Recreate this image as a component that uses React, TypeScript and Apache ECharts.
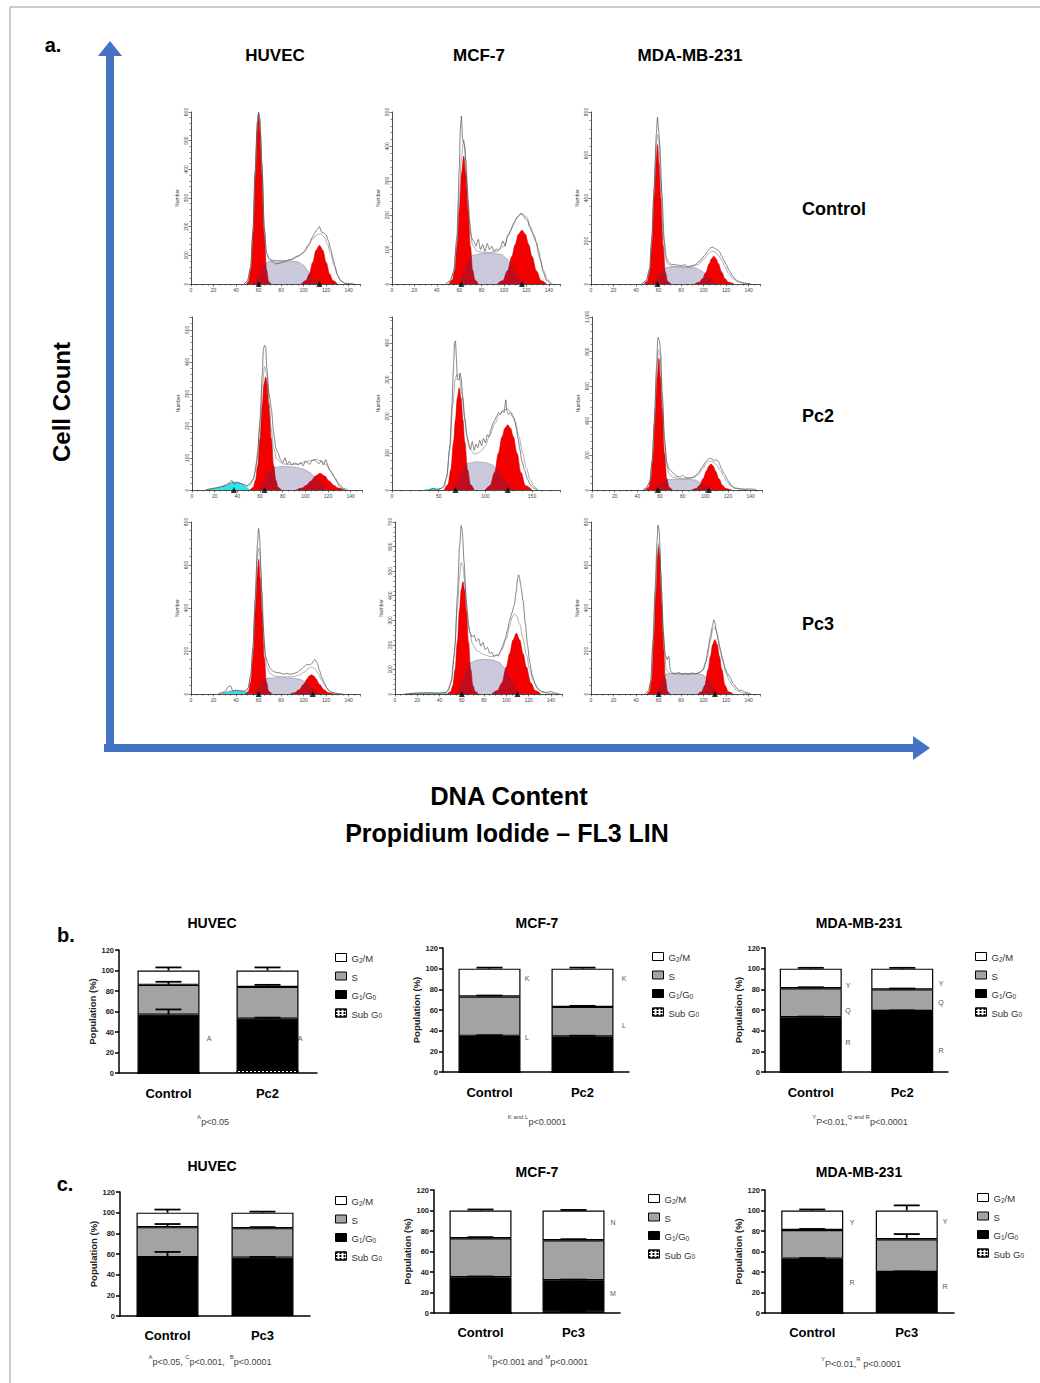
import React, { useEffect, useRef } from "react";
import * as echarts from "echarts";

const FONT = '"Liberation Sans", Arial, Helvetica, sans-serif';

// ---------------- Part a: DNA content histograms (x = PI channel, y = cell number) ----------------
// HUVEC Control
const huvecCtrlG1 = [[49,0],[51,8],[53,50],[55,175],[57,380],[58.5,530],[60,595],[61.5,530],[63,380],[65,175],[67,50],[69,8],[71,0]];
const huvecCtrlG2 = [[98,0],[102,12],[105,35],[108,75],[111,118],[114,135],[117,118],[120,75],[123,35],[126,12],[130,0]];
const huvecCtrlS = [[56,0],[60,25],[64,60],[68,78],[75,82],[85,82],[95,78],[100,65],[104,45],[108,22],[112,6],[116,0]];
const huvecCtrlRaw = [[47,0],[50,10],[53,60],[55,190],[57,400],[59,570],[60,600],[61,580],[63,420],[65,200],[67,110],[69,88],[72,80],[75,70],[78,72],[81,76],[84,78],[87,84],[90,88],[93,95],[96,100],[99,108],[102,120],[105,140],[108,165],[110,180],[112,190],[114,200],[116,180],[118,178],[120,170],[122,150],[124,120],[126,90],[128,60],[130,30],[133,10],[137,2],[145,0]];
const huvecCtrlFit = [[47,0],[50,10],[53,55],[55,180],[57,390],[59,565],[60,592],[61,575],[63,410],[65,195],[67,105],[70,85],[75,82],[80,80],[85,82],[90,86],[95,95],[100,110],[104,135],[108,158],[112,172],[115,175],[118,165],[121,140],[124,105],[127,65],[130,32],[133,12],[137,2],[142,0]];
const huvecCtrlTri = [[60,0],[114,0]];
// MCF-7 Control
const mcfCtrlG1 = [[51,0],[54,12],[56,40],[58,110],[60,215],[62,320],[64,372],[66,320],[68,215],[70,110],[72,40],[74,12],[77,0]];
const mcfCtrlG2 = [[94,0],[99,10],[103,38],[107,80],[110,115],[113,145],[116,156],[119,145],[122,115],[125,80],[129,38],[133,10],[138,0]];
const mcfCtrlS = [[60,0],[64,30],[68,65],[72,84],[80,89],[90,90],[98,86],[103,72],[107,50],[111,28],[115,10],[119,0]];
const mcfCtrlRaw = [[48,0],[52,8],[55,35],[58,140],[60,330],[61,450],[62,488],[63,420],[64,410],[65,400],[67,290],[69,190],[71,135],[73,125],[75,110],[77,130],[79,100],[81,115],[83,95],[85,118],[87,100],[89,110],[91,95],[93,102],[95,98],[97,108],[99,125],[101,110],[103,140],[106,155],[109,180],[112,195],[115,205],[117,200],[119,190],[121,185],[123,165],[125,150],[127,140],[129,120],[131,95],[133,65],[135,35],[138,10],[142,0]];
const mcfCtrlFit = [[48,0],[52,10],[55,35],[58,125],[60,250],[62,370],[64,420],[66,360],[68,240],[70,150],[72,112],[76,95],[82,92],[88,92],[94,95],[100,110],[104,140],[108,170],[112,195],[116,205],[120,195],[124,165],[128,125],[132,75],[135,40],[139,12],[143,0]];
const mcfCtrlTri = [[62,0],[116,0]];
// MDA-MB-231 Control
const mdaCtrlG1 = [[47,0],[50,12],[52,55],[54,180],[56,400],[57.5,560],[59,649],[60.5,560],[62,400],[64,180],[66,55],[68,12],[71,0]];
const mdaCtrlG2 = [[92,0],[96,8],[99,25],[102,55],[105,95],[107,118],[109,129],[111,118],[113,95],[116,55],[119,25],[122,8],[127,0]];
const mdaCtrlS = [[55,0],[59,25],[63,60],[67,77],[75,80],[85,79],[93,75],[98,62],[102,42],[106,20],[110,5],[113,0]];
const mdaCtrlRaw = [[45,0],[49,15],[52,70],[54,220],[56,450],[58,700],[59,775],[60,720],[61,650],[63,420],[65,200],[67,120],[69,100],[71,92],[74,90],[77,88],[80,85],[83,90],[86,80],[89,85],[92,88],[95,100],[98,115],[101,135],[104,155],[106,168],[108,172],[110,165],[112,160],[114,150],[116,130],[118,110],[120,90],[123,60],[126,35],[129,18],[132,10],[136,5],[142,0]];
const mdaCtrlFit = [[45,0],[49,15],[52,68],[54,210],[56,430],[58,650],[59,695],[60,680],[62,480],[64,240],[66,120],[68,92],[72,82],[80,80],[88,80],[95,90],[100,115],[104,140],[107,152],[110,150],[113,135],[116,110],[119,80],[122,50],[126,25],[130,10],[136,2],[142,0]];
const mdaCtrlTri = [[59,0]];
// HUVEC Pc2
const huvecPc2Sub = [[14,0],[20,4],[25,8],[30,15],[34,22],[37,25],[41,23],[45,16],[48,8],[51,0]];
const huvecPc2G1 = [[51,0],[54,8],[56,30],[58,77],[60,160],[62,265],[63.5,330],[65,353],[66.5,330],[68,265],[70,160],[72,77],[74,30],[76,8],[79,0]];
const huvecPc2G2 = [[92,0],[97,6],[101,15],[105,28],[109,44],[113,52],[117,44],[121,28],[125,15],[129,6],[134,0]];
const huvecPc2S = [[60,0],[64,25],[68,55],[72,70],[80,74],[90,72],[98,66],[104,55],[109,38],[114,20],[118,8],[122,0]];
const huvecPc2Raw = [[12,0],[20,6],[28,12],[33,22],[35,30],[37,18],[40,24],[44,20],[48,12],[51,20],[54,35],[56,60],[58,120],[60,220],[62,360],[63,440],[64,452],[65,445],[66,380],[68,300],[70,255],[72,180],[74,130],[76,115],[78,95],[80,85],[82,100],[84,80],[86,90],[88,78],[90,85],[92,82],[94,78],[96,86],[98,75],[100,90],[102,85],[104,80],[106,92],[108,95],[110,88],[112,82],[114,92],[116,78],[118,95],[120,75],[122,60],[124,50],[126,38],[128,25],[130,12],[133,4],[136,0]];
const huvecPc2Fit = [[12,0],[20,5],[30,14],[37,25],[44,18],[50,12],[54,30],[57,85],[60,200],[62,320],[64,385],[66,360],[68,270],[70,190],[72,130],[75,95],[80,82],[85,80],[90,80],[95,82],[100,88],[105,92],[110,95],[114,90],[118,80],[122,60],[126,38],[130,18],[134,5],[138,0]];
const huvecPc2Tri = [[37,0],[64,0]];
// MCF-7 Pc2
const mcfPc2Sub = [[35,0],[40,2],[44,4],[48,2],[52,0]];
const mcfPc2G1 = [[56,0],[60,15],[63,55],[66,130],[68,190],[70,250],[72,278],[74,250],[76,190],[78,130],[81,55],[84,15],[88,0]];
const mcfPc2G2 = [[100,0],[105,12],[110,48],[114,100],[118,145],[121,168],[124,177],[127,168],[130,145],[134,100],[138,48],[143,12],[150,0]];
const mcfPc2S = [[66,0],[71,25],[76,55],[81,72],[90,77],[100,75],[108,68],[114,50],[119,30],[125,12],[130,0]];
const mcfPc2Raw = [[40,0],[44,4],[48,2],[52,4],[56,10],[59,40],[62,120],[64,220],[66,340],[67,400],[68,405],[69,360],[70,300],[72,300],[73,318],[74,305],[76,250],[78,190],[80,150],[82,125],[84,110],[86,132],[88,108],[90,125],[92,115],[94,135],[96,120],[98,140],[100,128],[102,150],[104,145],[106,165],[108,180],[110,190],[112,200],[114,210],[116,205],[118,215],[120,210],[122,245],[123,215],[125,205],[127,210],[129,200],[131,195],[133,170],[135,140],[137,110],[139,80],[142,55],[145,30],[148,15],[152,5],[156,0]];
const mcfPc2Fit = [[48,0],[54,5],[58,30],[62,110],[65,230],[68,305],[70,315],[72,310],[75,260],[78,195],[81,140],[84,110],[88,98],[92,100],[96,108],[100,120],[105,150],[110,180],[115,205],[120,218],[124,220],[128,210],[132,185],[136,145],[140,100],[144,60],[148,28],[152,10],[156,0]];
const mcfPc2Tri = [[68,0],[124,0]];
// MDA-MB-231 Pc2
const mdaPc2G1 = [[47,0],[50,15],[52,65],[54,210],[56,470],[57.5,655],[59,760],[60.5,655],[62,470],[64,210],[66,65],[68,15],[71,0]];
const mdaPc2G2 = [[88,0],[92,8],[95,28],[98,65],[101,110],[103,138],[105,150],[107,138],[109,110],[112,65],[115,28],[118,8],[123,0]];
const mdaPc2S = [[55,0],[59,22],[63,48],[67,60],[75,63],[85,62],[91,58],[95,45],[99,28],[103,12],[107,0]];
const mdaPc2Raw = [[45,0],[48,12],[51,50],[53,170],[55,400],[57,720],[58,870],[58.5,882],[59.5,860],[60.5,800],[62,560],[64,300],[66,160],[68,120],[70,110],[72,95],[75,80],[78,75],[80,85],[82,72],[85,70],[88,72],[91,80],[94,100],[97,130],[100,160],[102,175],[104,185],[106,178],[108,170],[110,175],[112,160],[114,125],[117,90],[120,55],[123,25],[126,12],[130,8],[135,5],[140,6],[145,2]];
const mdaPc2Fit = [[45,0],[48,12],[51,45],[53,160],[55,380],[57,680],[58.5,810],[60,780],[62,520],[64,270],[66,140],[68,95],[71,75],[78,66],[85,66],[90,72],[94,90],[98,125],[101,155],[104,168],[107,162],[110,145],[113,115],[116,80],[119,48],[122,25],[126,10],[132,3],[140,0]];
const mdaPc2Tri = [[58,0],[103,0]];
// HUVEC Pc3
const huvecPc3Sub = [[26,0],[30,6],[34,12],[38,15],[42,15],[46,12],[49,6],[52,0]];
const huvecPc3G1 = [[48,0],[51,12],[53,55],[55,170],[57,385],[58.5,540],[60,626],[61.5,540],[63,385],[65,170],[67,55],[69,12],[72,0]];
const huvecPc3G2 = [[88,0],[92,6],[96,20],[100,45],[103,70],[105,84],[107,90],[109,84],[111,70],[114,45],[118,20],[122,6],[127,0]];
const huvecPc3S = [[56,0],[60,25],[64,58],[68,74],[78,76],[88,75],[96,70],[100,60],[104,42],[108,22],[112,6],[116,0]];
const huvecPc3Raw = [[24,0],[28,8],[31,15],[33,35],[35,38],[37,15],[40,18],[44,15],[48,12],[51,30],[53,90],[55,220],[57,450],[59,700],[60,770],[61,720],[62,580],[64,320],[66,180],[68,145],[70,120],[73,105],[76,100],[79,98],[82,92],[85,96],[88,92],[91,95],[94,100],[97,112],[100,125],[103,138],[105,135],[107,140],[109,155],[110,160],[112,145],[114,110],[116,80],[118,55],[121,25],[124,10],[128,3],[135,0]];
const huvecPc3Fit = [[26,0],[30,6],[34,12],[40,15],[46,12],[50,20],[53,80],[55,210],[57,430],[59,640],[60,680],[61,660],[63,470],[65,240],[67,130],[70,95],[75,82],[82,80],[90,80],[96,88],[100,100],[104,118],[107,125],[110,118],[113,95],[116,65],[119,38],[122,18],[126,6],[132,0]];
const huvecPc3Tri = [[60,0],[108,0]];
// MCF-7 Pc3
const mcfPc3Sub = [[8,0],[15,2],[25,3],[35,3],[45,2],[50,0]];
const mcfPc3G1 = [[47,0],[50,10],[52,35],[54,100],[56,210],[58,345],[59.5,425],[61,457],[62.5,425],[64,345],[66,210],[68,100],[70,35],[72,10],[75,0]];
const mcfPc3G2 = [[87,0],[92,14],[96,45],[100,110],[103,165],[106,220],[109,247],[112,220],[115,165],[118,110],[122,45],[126,14],[131,0]];
const mcfPc3S = [[56,0],[60,40],[64,95],[68,128],[74,138],[80,141],[88,138],[94,128],[98,108],[102,75],[106,40],[110,12],[114,0]];
const mcfPc3Raw = [[10,0],[20,4],[30,5],[40,4],[45,6],[48,15],[51,60],[54,200],[56,400],[58,600],[59.5,685],[60.5,660],[62,540],[64,380],[66,280],[67.5,250],[69,232],[71,240],[73,215],[75,225],[77,195],[79,210],[81,180],[83,190],[85,165],[87,170],[89,152],[91,160],[93,155],[95,175],[97,200],[99,225],[101,260],[103,300],[105,330],[107,360],[109,420],[110,470],[111,485],[112,470],[113,440],[115,380],[117,290],[119,200],[121,130],[123,80],[126,40],[129,18],[132,10],[136,6],[140,10],[144,4],[148,0]];
const mcfPc3Fit = [[10,0],[20,3],[30,4],[40,3],[46,6],[50,40],[53,150],[56,350],[58,480],[59.5,535],[61,520],[63,440],[65,330],[67,250],[70,200],[74,175],[80,160],[86,152],[92,158],[96,180],[100,225],[103,275],[105,310],[107,326],[109,320],[112,285],[115,225],[118,160],[121,100],[124,55],[128,22],[132,8],[138,2],[146,0]];
const mcfPc3Tri = [[60,0],[110,0]];
// MDA-MB-231 Pc3
const mdaPc3G1 = [[50,0],[52,12],[54,70],[56,280],[57.5,480],[59,650],[60,688],[61,650],[62.5,480],[64,280],[66,70],[68,12],[70,0]];
const mdaPc3G2 = [[95,0],[98,10],[101,40],[104,115],[106,175],[108,230],[110,253],[112,230],[114,175],[116,115],[119,40],[122,10],[126,0]];
const mdaPc3S = [[58,0],[61,30],[64,75],[67,94],[75,96],[85,95],[95,95],[100,88],[104,62],[108,30],[112,8],[115,0]];
const mdaPc3Raw = [[48,0],[51,15],[53,60],[55,250],[57,500],[58.5,700],[59.5,785],[60.5,760],[62,560],[64,300],[66,180],[67.5,160],[69,175],[70.5,110],[72,98],[75,95],[78,100],[81,92],[84,96],[87,92],[90,98],[93,94],[96,100],[99,110],[102,150],[104,210],[106,270],[108,320],[109,345],[110,335],[111,300],[113,250],[115,200],[117,160],[119,120],[121,95],[123,82],[126,50],[129,30],[132,15],[134,18],[137,8],[142,0]];
const mdaPc3Fit = [[48,0],[51,12],[53,55],[55,230],[57,460],[59,660],[60,700],[61,670],[63,420],[65,200],[67,110],[70,96],[75,93],[85,92],[95,95],[100,115],[103,170],[106,250],[108,300],[110,312],[112,280],[114,220],[117,150],[120,95],[123,60],[126,35],[130,15],[135,5],[140,0]];
const mdaPc3Tri = [[60,0],[110,0]];

// axis ranges of the nine histograms (row-major: Control, Pc2, Pc3 × HUVEC, MCF-7, MDA-MB-231)
const histYMax = [600, 500, 800, 540, 470, 1000, 800, 700, 800];
const histYInterval = [100, 100, 200, 100, 100, 200, 200, 100, 200];
const histXMax = [150, 150, 150, 150, 180, 150, 150, 150, 150];
const histXInterval = [20, 20, 20, 20, 50, 20, 20, 20, 20];

// ---------------- Parts b and c: cell-cycle distribution (%) ----------------
const bCategories = ["Control", "Pc2"];
const cCategories = ["Control", "Pc3"];
const phaseNames = ["G2/M", "S", "G1/G0", "Sub G0"];

// b. HUVEC
const bHuvecSub = [0, 3];
const bHuvecG1 = [57, 50];
const bHuvecS = [29, 31];
const bHuvecG2 = [14, 16];
const bHuvecErr = [[0, 5, 3, 3], [0, 1, 2, 3]]; // per bar: sub, G1, S, G2 SD
// b. MCF-7
const bMcfSub = [0, 0];
const bMcfG1 = [35, 34.5];
const bMcfS = [38, 28.5];
const bMcfG2 = [27, 37];
const bMcfErr = [[0, 0.6, 1, 1], [0, 0.6, 1, 1]];
// b. MDA-MB-231
const bMdaSub = [0, 0];
const bMdaG1 = [53, 59];
const bMdaS = [28, 21];
const bMdaG2 = [19, 20];
const bMdaErr = [[0, 0.6, 1, 0.8], [0, 0.6, 0.8, 0.8]];
// c. HUVEC
const cHuvecSub = [0, 2];
const cHuvecG1 = [57, 54.5];
const cHuvecS = [29, 28.5];
const cHuvecG2 = [14, 15];
const cHuvecErr = [[0, 5, 3, 3], [1, 0.6, 1, 1]];
// c. MCF-7
const cMcfSub = [0, 1.5];
const cMcfG1 = [35, 30.5];
const cMcfS = [38, 39];
const cMcfG2 = [27, 29];
const cMcfErr = [[0, 0.6, 1, 1], [0.5, 0.6, 1, 0.6]];
// c. MDA-MB-231
const cMdaSub = [0, 1];
const cMdaG1 = [53, 39];
const cMdaS = [28, 32];
const cMdaG2 = [19, 28];
const cMdaErr = [[0, 0.6, 1, 1], [0, 0.6, 5, 5]];

export default function App() {
  const ref = useRef<HTMLDivElement>(null);

  useEffect(() => {
    if (!ref.current) return;
    const chart = echarts.init(ref.current, undefined, { renderer: "svg" });

    const hist = [
      { g1: huvecCtrlG1, g2: huvecCtrlG2, s: huvecCtrlS, raw: huvecCtrlRaw, fit: huvecCtrlFit, tri: huvecCtrlTri, sub: null },
      { g1: mcfCtrlG1, g2: mcfCtrlG2, s: mcfCtrlS, raw: mcfCtrlRaw, fit: mcfCtrlFit, tri: mcfCtrlTri, sub: null },
      { g1: mdaCtrlG1, g2: mdaCtrlG2, s: mdaCtrlS, raw: mdaCtrlRaw, fit: mdaCtrlFit, tri: mdaCtrlTri, sub: null },
      { g1: huvecPc2G1, g2: huvecPc2G2, s: huvecPc2S, raw: huvecPc2Raw, fit: huvecPc2Fit, tri: huvecPc2Tri, sub: huvecPc2Sub },
      { g1: mcfPc2G1, g2: mcfPc2G2, s: mcfPc2S, raw: mcfPc2Raw, fit: mcfPc2Fit, tri: mcfPc2Tri, sub: mcfPc2Sub },
      { g1: mdaPc2G1, g2: mdaPc2G2, s: mdaPc2S, raw: mdaPc2Raw, fit: mdaPc2Fit, tri: mdaPc2Tri, sub: null },
      { g1: huvecPc3G1, g2: huvecPc3G2, s: huvecPc3S, raw: huvecPc3Raw, fit: huvecPc3Fit, tri: huvecPc3Tri, sub: huvecPc3Sub },
      { g1: mcfPc3G1, g2: mcfPc3G2, s: mcfPc3S, raw: mcfPc3Raw, fit: mcfPc3Fit, tri: mcfPc3Tri, sub: mcfPc3Sub },
      { g1: mdaPc3G1, g2: mdaPc3G2, s: mdaPc3S, raw: mdaPc3Raw, fit: mdaPc3Fit, tri: mdaPc3Tri, sub: null },
    ];
    const histLeft = [191, 392, 591, 192, 392, 592, 191, 395, 591];
    const histWidth = [169, 168, 169, 170, 168, 170, 169, 167, 169];
    const histTop = [112, 112, 112, 317, 317, 317, 522, 522, 522];
    const histHeight = [172, 172, 172, 173, 173, 173, 172, 172, 172];

    const bars = [
      { cats: bCategories, sub: bHuvecSub, g1: bHuvecG1, s: bHuvecS, g2: bHuvecG2, err: bHuvecErr, left: 119, top: 950, width: 198, height: 123, lx: 330, ly: 948 },
      { cats: bCategories, sub: bMcfSub, g1: bMcfG1, s: bMcfS, g2: bMcfG2, err: bMcfErr, left: 443, top: 948, width: 186, height: 124, lx: 647, ly: 947 },
      { cats: bCategories, sub: bMdaSub, g1: bMdaG1, s: bMdaS, g2: bMdaG2, err: bMdaErr, left: 765, top: 948, width: 183, height: 124, lx: 970, ly: 947 },
      { cats: cCategories, sub: cHuvecSub, g1: cHuvecG1, s: cHuvecS, g2: cHuvecG2, err: cHuvecErr, left: 120, top: 1192, width: 190, height: 124, lx: 330, ly: 1191 },
      { cats: cCategories, sub: cMcfSub, g1: cMcfG1, s: cMcfS, g2: cMcfG2, err: cMcfErr, left: 434, top: 1190, width: 186, height: 123, lx: 643, ly: 1189 },
      { cats: cCategories, sub: cMdaSub, g1: cMdaG1, s: cMdaS, g2: cMdaG2, err: cMdaErr, left: 765, top: 1190, width: 189, height: 123, lx: 972, ly: 1188 },
    ];

    const grid: any[] = [];
    const xAxis: any[] = [];
    const yAxis: any[] = [];
    const series: any[] = [];

    const axisCol = "#222";
    hist.forEach((h, i) => {
      grid.push({ left: histLeft[i], top: histTop[i], width: histWidth[i], height: histHeight[i] });
      xAxis.push({
        gridIndex: i, type: "value", min: 0, max: histXMax[i], interval: histXInterval[i],
        axisLine: { show: true, onZero: false, lineStyle: { color: axisCol, width: 0.8 } },
        axisTick: { show: true, length: 2.5, lineStyle: { color: axisCol, width: 0.6 } },
        minorTick: { show: true, splitNumber: histXInterval[i] === 50 ? 5 : 4, length: 1.6, lineStyle: { color: axisCol, width: 0.5 } },
        splitLine: { show: false },
        axisLabel: { fontSize: 5, color: "#444", margin: 3, fontFamily: FONT, showMaxLabel: histXMax[i] % histXInterval[i] === 0 },
      });
      yAxis.push({
        gridIndex: i, type: "value", min: 0, max: histYMax[i], interval: histYInterval[i],
        axisLine: { show: true, lineStyle: { color: axisCol, width: 0.8 } },
        axisTick: { show: true, length: 2.5, lineStyle: { color: axisCol, width: 0.6 } },
        minorTick: { show: true, splitNumber: 5, length: 1.6, lineStyle: { color: axisCol, width: 0.5 } },
        splitLine: { show: false },
        axisLabel: { fontSize: 5, color: "#444", rotate: 90, margin: 3, fontFamily: FONT, showMaxLabel: histYMax[i] % histYInterval[i] === 0 },
        name: "Number", nameLocation: "middle", nameGap: 12, nameRotate: 90,
        nameTextStyle: { fontSize: 5, color: "#444", fontFamily: FONT },
      });
      const base = { xAxisIndex: i, yAxisIndex: i, type: "line", symbol: "none", smooth: 0.35, smoothMonotone: "x", silent: true, animation: false };
      if (h.sub) {
        series.push({ ...base, name: "subG0_" + i, data: h.sub, lineStyle: { color: "#18b8c0", width: 0.5 }, areaStyle: { color: "#2ee6ea", opacity: 1 }, z: 2 });
      }
      series.push({ ...base, name: "g1_" + i, data: h.g1, lineStyle: { color: "#c80000", width: 0.6 }, areaStyle: { color: "#f40000", opacity: 1 }, z: 2 });
      series.push({ ...base, name: "g2_" + i, data: h.g2, lineStyle: { color: "#c80000", width: 0.6 }, areaStyle: { color: "#f40000", opacity: 1 }, z: 2 });
      series.push({ ...base, name: "s_" + i, data: h.s, smooth: 0.15, lineStyle: { color: "rgba(70,70,120,0.6)", width: 0.5 }, areaStyle: { color: "rgba(45,45,115,0.25)", opacity: 1 }, z: 3 });
      series.push({ ...base, name: "fit_" + i, data: h.fit, lineStyle: { color: "#9a9a9a", width: 0.8 }, z: 4 });
      series.push({ ...base, name: "raw_" + i, data: h.raw, smooth: 0.2, lineStyle: { color: "#505050", width: 0.7 }, z: 5 });
      series.push({
        type: "scatter", name: "tri_" + i, xAxisIndex: i, yAxisIndex: i, data: h.tri, symbol: "triangle",
        symbolSize: [6, 6], symbolOffset: [0, 0], itemStyle: { color: "#000" }, clip: false, silent: true, z: 6,
      });
    });

    const legendRich = {
      t: { fontSize: 9.5, color: "#333", fontFamily: FONT, lineHeight: 12, verticalAlign: "bottom" },
      s: { fontSize: 6.5, color: "#333", fontFamily: FONT, lineHeight: 8, verticalAlign: "bottom" },
    };
    const legendFmt = (name: string) => {
      if (name === "G2/M") return "{t|G}{s|2}{t|/M}";
      if (name === "G1/G0") return "{t|G}{s|1}{t|/G}{s|0}";
      if (name === "Sub G0") return "{t|Sub G}{s|0}";
      return "{t|" + name + "}";
    };
    const legends: any[] = [];

    bars.forEach((b, k) => {
      const gi = 9 + k;
      grid.push({ left: b.left, top: b.top, width: b.width, height: b.height });
      xAxis.push({
        gridIndex: gi, type: "category", data: b.cats,
        axisLine: { lineStyle: { color: "#000", width: 1.5 } },
        axisTick: { alignWithLabel: true, length: 4, lineStyle: { color: "#000", width: 1.5 } },
        axisLabel: { fontSize: 13, fontWeight: "bold", color: "#000", margin: k < 3 ? 14 : 13, fontFamily: FONT },
      });
      yAxis.push({
        gridIndex: gi, type: "value", min: 0, max: 120, interval: 20,
        axisLine: { show: true, lineStyle: { color: "#000", width: 1.5 } },
        axisTick: { show: true, length: 4, lineStyle: { color: "#000", width: 1.5 } },
        splitLine: { show: false },
        axisLabel: { fontSize: 7.5, fontWeight: "bold", color: "#222", margin: 5, fontFamily: FONT },
        name: "Population (%)", nameLocation: "middle", nameGap: 19,
        nameTextStyle: { fontSize: 9.5, fontWeight: "bold", color: "#222", fontFamily: FONT },
      });
      const common = { type: "bar", xAxisIndex: gi, yAxisIndex: gi, stack: "st" + k, barWidth: 62, silent: true };
      series.push({
        ...common, name: "Sub G0", data: b.sub,
        itemStyle: {
          color: "#fff", borderColor: "#000", borderWidth: 1,
          decal: { symbol: "rect", symbolSize: 1, dashArrayX: [1.5, 2], dashArrayY: [2, 1], color: "#000" },
        },
      });
      series.push({ ...common, name: "G1/G0", data: b.g1, itemStyle: { color: "#000", borderColor: "#000", borderWidth: 1.2 } });
      series.push({ ...common, name: "S", data: b.s, itemStyle: { color: "#a3a3a3", borderColor: "#000", borderWidth: 1.2 } });
      series.push({ ...common, name: "G2/M", data: b.g2, itemStyle: { color: "#fff", borderColor: "#000", borderWidth: 1.2 } });

      const errData: number[][] = [];
      b.cats.forEach((_c, j) => {
        const segs = [b.sub[j], b.g1[j], b.s[j], b.g2[j]];
        let cum = 0;
        segs.forEach((v, m) => {
          cum += v;
          const e = b.err[j][m];
          if (e > 0) errData.push([j, cum, cum + e]);
        });
      });
      series.push({
        type: "custom", name: "err_" + k, xAxisIndex: gi, yAxisIndex: gi, data: errData, silent: true, z: 10,
        encode: { x: 0, y: [1, 2] },
        renderItem: (_p: any, api: any) => {
          const p0 = api.coord([api.value(0), api.value(1)]);
          const p1 = api.coord([api.value(0), api.value(2)]);
          return {
            type: "group",
            children: [
              { type: "line", shape: { x1: p0[0], y1: p0[1], x2: p1[0], y2: p1[1] }, style: { stroke: "#000", lineWidth: 1.8 } },
              { type: "line", shape: { x1: p1[0] - 13, y1: p1[1], x2: p1[0] + 13, y2: p1[1] }, style: { stroke: "#000", lineWidth: 1.8 } },
            ],
          };
        },
      });

      legends.push({
        orient: "vertical", left: b.lx, top: b.ly, itemWidth: 11, itemHeight: 8, itemGap: 8,
        data: phaseNames, icon: "rect", selectedMode: false, formatter: legendFmt,
        itemStyle: { borderColor: "#000", borderWidth: 1 },
        textStyle: { fontSize: 9.5, color: "#333", fontFamily: FONT, rich: legendRich },
      });
    });

    const blue = "#4472c4";
    const txt = (text: string, x: number, y: number, size: number, opts: any = {}) => ({
      type: "text", x, y, silent: true, rotation: opts.rotation || 0,
      style: {
        text, fontSize: size, fontWeight: opts.weight || "bold", fontFamily: FONT, fill: opts.fill || "#000",
        align: opts.align || "center", verticalAlign: "middle", textAlign: opts.align || "center", textVerticalAlign: "middle",
      },
    });
    const FF = '"Liberation Sans", Arial, sans-serif';
    const supRich = {
      t: { font: "9px " + FF, fill: "#444", verticalAlign: "bottom", lineHeight: 12 },
      sup: { font: "6px " + FF, fill: "#444", verticalAlign: "top", lineHeight: 12 },
    };
    const foot = (text: string, x: number, y: number) => ({
      type: "text", x, y, silent: true,
      style: { text, rich: supRich, font: "9px " + FF, fill: "#444", align: "center", verticalAlign: "middle", textAlign: "center", textVerticalAlign: "middle" },
    });
    const ann = (text: string, x: number, y: number) => txt(text, x, y, 7, { weight: "normal", fill: "#555" });

    const graphic: any[] = [
      { type: "line", shape: { x1: 10, y1: 7, x2: 1040, y2: 7 }, style: { stroke: "#9a9a9a", lineWidth: 1 }, silent: true },
      { type: "line", shape: { x1: 10, y1: 7, x2: 10, y2: 1383 }, style: { stroke: "#9a9a9a", lineWidth: 1 }, silent: true },
      // arrows
      { type: "rect", shape: { x: 106, y: 52, width: 8, height: 700 }, style: { fill: blue }, silent: true },
      { type: "polygon", shape: { points: [[98, 56], [122, 56], [110, 41]] }, style: { fill: blue }, silent: true },
      { type: "rect", shape: { x: 104, y: 744, width: 812, height: 8 }, style: { fill: blue }, silent: true },
      { type: "polygon", shape: { points: [[913, 736], [913, 760], [930, 748]] }, style: { fill: blue }, silent: true },
      txt("a.", 53, 45, 20),
      txt("b.", 66, 935, 20),
      txt("c.", 65, 1184, 20),
      txt("HUVEC", 275, 55, 17),
      txt("MCF-7", 479, 55, 17),
      txt("MDA-MB-231", 690, 55, 17),
      txt("Control", 802, 209, 18, { align: "left" }),
      txt("Pc2", 802, 416, 18, { align: "left" }),
      txt("Pc3", 802, 624, 18, { align: "left" }),
      txt("Cell Count", 61, 402, 24, { rotation: Math.PI / 2 }),
      txt("DNA Content", 509, 796, 25.5),
      txt("Propidium Iodide \u2013 FL3 LIN", 507, 833, 25),
      // bar chart titles
      txt("HUVEC", 212, 923, 14),
      txt("MCF-7", 537, 923, 14),
      txt("MDA-MB-231", 859, 923, 14),
      txt("HUVEC", 212, 1166, 14),
      txt("MCF-7", 537, 1172, 14),
      txt("MDA-MB-231", 859, 1172, 14),
      // significance letters
      ann("A", 209, 1038), ann("A", 300, 1038),
      ann("K", 527, 978), ann("L", 527, 1037), ann("K", 624, 978), ann("L", 624, 1025),
      ann("Y", 848, 985), ann("Q", 848, 1010), ann("R", 848, 1042), ann("Y", 941, 983), ann("Q", 941, 1002), ann("R", 941, 1050),
      ann("N", 548, 1222), ann("M", 548, 1293), ann("N", 613, 1222), ann("M", 613, 1293),
      ann("Y", 852, 1222), ann("R", 852, 1282), ann("Y", 945, 1221), ann("R", 945, 1286),
      // footnotes
      foot("{sup|A}{t|p<0.05}", 213, 1120),
      foot("{sup|K and L}{t|p<0.0001}", 537, 1120),
      foot("{sup|Y}{t|P<0.01,}{sup|Q and R}{t|p<0.0001}", 860, 1120),
      foot("{sup|A}{t|p<0.05, }{sup|C}{t|p<0.001,  }{sup|B}{t|p<0.0001}", 210, 1360),
      foot("{sup|N}{t|p<0.001 and }{sup|M}{t|p<0.0001}", 538, 1360),
      foot("{sup|Y}{t|P<0.01,}{sup|R}{t| p<0.0001}", 861, 1362),
    ];

    chart.setOption({
      animation: false,
      backgroundColor: "#fff",
      textStyle: { fontFamily: FONT },
      grid, xAxis, yAxis, series, legend: legends, graphic,
    });

    return () => chart.dispose();
  }, []);

  return <div ref={ref} style={{ position: "absolute", left: 0, top: 0, width: 1040, height: 1383 }} />;
}
